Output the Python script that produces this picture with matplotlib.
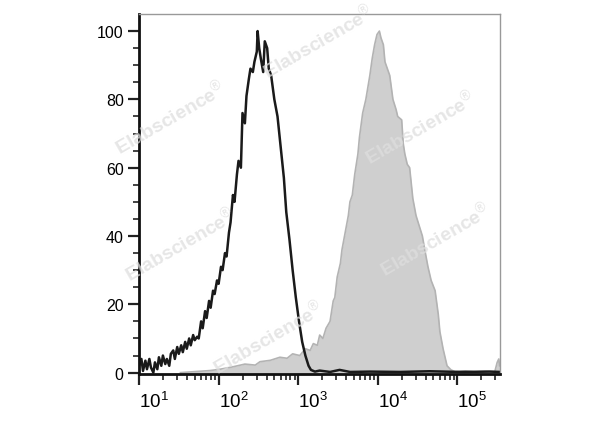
import matplotlib.pyplot as plt
import numpy as np

plt.rcParams['font.family'] = ['Liberation Sans', 'DejaVu Sans']
plt.rcParams['mathtext.fontset'] = 'custom'
plt.rcParams['mathtext.rm'] = 'Liberation Sans'
plt.rcParams['mathtext.it'] = 'Liberation Sans:italic'
plt.rcParams['mathtext.bf'] = 'Liberation Sans:bold'

# control (black line): log10 fluorescence, % of max
control_log = [1.00, 1.03, 1.05, 1.08, 1.10, 1.13, 1.15, 1.18, 1.20, 1.23, 1.25, 1.28, 1.30, 1.33, 1.35,
               1.38, 1.40, 1.43, 1.45, 1.48, 1.50, 1.53, 1.55, 1.58, 1.60, 1.63, 1.65, 1.68, 1.70, 1.73,
               1.75, 1.78, 1.80, 1.83, 1.85, 1.88, 1.90, 1.93, 1.95, 1.98, 2.00, 2.03, 2.05, 2.08, 2.10,
               2.13, 2.15, 2.18, 2.20, 2.23, 2.25, 2.28, 2.30, 2.33, 2.35, 2.38, 2.40, 2.43, 2.45, 2.48,
               2.49, 2.51, 2.53, 2.56, 2.58, 2.61, 2.63, 2.66, 2.70, 2.74, 2.78, 2.82, 2.85, 2.89, 2.93,
               2.97, 3.01, 3.05, 3.09, 3.13, 3.16, 3.21, 3.27, 3.40, 3.52, 3.65, 3.90, 4.28, 4.65, 5.03,
               5.41, 5.54]
control_pct = [2, 4, 0.5, 3.5, 1, 4, 1.5, 0, 3, 1, 4.5, 2, 5, 2.5, 4,
               2, 5.5, 6.5, 4, 7.5, 5.5, 8, 6, 9, 7, 10, 8, 11, 9.5, 10.5,
               10, 15, 13, 18, 16, 21, 19, 24, 23, 27, 26, 31, 30, 35, 34,
               41, 44, 52, 50, 58, 62, 60, 76, 73, 81, 86, 89, 88, 91, 94,
               100, 95, 92, 88, 97, 95, 89, 87, 80, 75, 66, 57, 47, 39, 30,
               22, 15, 9, 5, 2, 0.8, 0.3, 0.6, 0.2, 0.8, 0.2, 0.3, 0.2, 0.4, 0.2,
               0.3, 0.2]

# stained sample (grey filled)
stained_log = [1.52, 1.70, 1.89, 2.02, 2.18, 2.33, 2.46, 2.52, 2.65, 2.77, 2.86, 2.93, 3.02, 3.09, 3.15,
               3.19, 3.24, 3.27, 3.31, 3.35, 3.40, 3.44, 3.46, 3.49, 3.53, 3.55, 3.59, 3.63, 3.65, 3.68,
               3.71, 3.75, 3.77, 3.81, 3.85, 3.90, 3.93, 3.96, 3.99, 4.02, 4.04, 4.07, 4.09, 4.12, 4.15,
               4.19, 4.23, 4.25, 4.30, 4.32, 4.34, 4.37, 4.40, 4.44, 4.48, 4.52, 4.56, 4.59, 4.63, 4.67,
               4.72, 4.76, 4.78, 4.82, 4.87, 4.92, 4.97, 5.10, 5.22, 5.35, 5.47, 5.50, 5.52, 5.53]
stained_pct = [0, 0.3, 0.6, 1, 1.7, 2.5, 2.2, 3.2, 3.6, 4.5, 4.2, 5.5, 5, 7, 6.5,
               8.5, 8, 11, 10, 13, 15, 21, 22, 28, 32, 36, 41, 46, 50, 52,
               58, 64, 69, 76, 80, 87, 92, 96, 99, 100, 98, 96, 91, 89, 87,
               80, 77, 75, 74, 67, 64, 61, 60, 51, 46, 43, 40, 36, 31, 27,
               24, 17, 12, 7, 2, 0.8, 0.3, 0.5, 0.2, 0.4, 0.3, 3, 4, 2]

xtick_labels = ['$10^{1}$', '$10^{2}$', '$10^{3}$', '$10^{4}$', '$10^{5}$']
ytick_labels = ['0', '20', '40', '60', '80', '100']

fig = plt.figure(figsize=(6, 4.27), dpi=100)
ax = fig.add_axes([0.2317, 0.1218, 0.6016, 0.8431])

sx = 10 ** np.array(stained_log)
ax.fill_between(sx, stained_pct, -1, color='#cfcfcf', linewidth=0)
ax.plot(sx, stained_pct, color='#b3b3b3', linewidth=1.2)
ax.plot(10 ** np.array(control_log), control_pct, color='#1a1a1a', linewidth=1.8)

ax.set_xscale('log')
ax.set_xlim(10, 10 ** 5.535)
ax.set_ylim(-0.4, 105)

ax.set_xticks([10, 100, 1000, 10000, 100000])
ax.set_xticklabels(xtick_labels, fontsize=13.5, ha='left')
ax.set_yticks([0, 20, 40, 60, 80, 100])
ax.set_yticklabels(ytick_labels, fontsize=11.5)
ax.set_yticks(np.arange(0, 105, 5), minor=True)
ax.tick_params(axis='both', which='major', direction='out', length=8, width=1.6, color='#222222', pad=3)
ax.tick_params(axis='both', which='minor', direction='out', length=4, width=1.2, color='#222222')
ax.tick_params(axis='x', which='major', pad=4)

for side in ['left', 'bottom']:
    ax.spines[side].set_color('#111111')
    ax.spines[side].set_linewidth(2)
for side in ['top', 'right']:
    ax.spines[side].set_color('#999999')
    ax.spines[side].set_linewidth(1)

# watermarks
marks = [(170, 118), (318, 42), (420, 128), (180, 245), (435, 240), (268, 338)]
for mx, my in marks:
    fig.text(mx / 600, 1 - my / 427, 'Elabscience$^{\u00ae}$', rotation=30, ha='center', va='center',
             fontsize=14, fontweight='bold', color='#dedede', alpha=0.75, zorder=10)

plt.savefig('out.png', dpi=100)
